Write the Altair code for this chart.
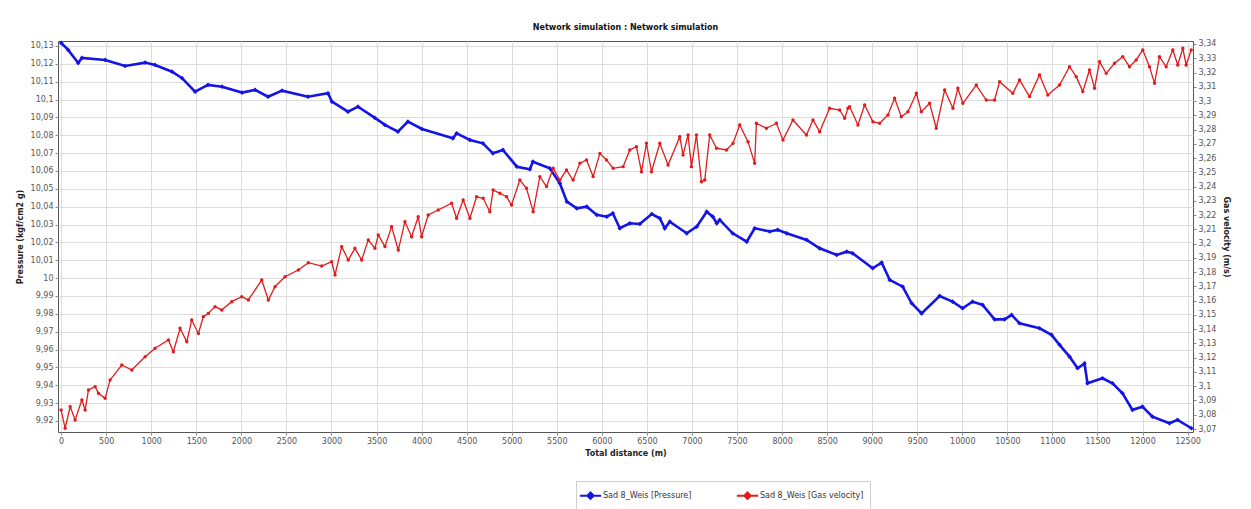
import altair as alt
import pandas as pd

TITLE = "Network simulation : Network simulation"
SERIES = ["Sad 8_Weis [Pressure]", "Sad 8_Weis [Gas velocity]"]
COLORS = ["#1414e6", "#e01c1c"]

x_ticks = [0, 500, 1000, 1500, 2000, 2500, 3000, 3500, 4000, 4500, 5000, 5500, 6000,
           6500, 7000, 7500, 8000, 8500, 9000, 9500, 10000, 10500, 11000, 11500, 12000, 12500]
p_ticks = [9.92, 9.93, 9.94, 9.95, 9.96, 9.97, 9.98, 9.99, 10.0, 10.01, 10.02, 10.03, 10.04,
           10.05, 10.06, 10.07, 10.08, 10.09, 10.1, 10.11, 10.12, 10.13]
v_ticks = [3.07, 3.08, 3.09, 3.1, 3.11, 3.12, 3.13, 3.14, 3.15, 3.16, 3.17, 3.18, 3.19, 3.2,
           3.21, 3.22, 3.23, 3.24, 3.25, 3.26, 3.27, 3.28, 3.29, 3.3, 3.31, 3.32, 3.33, 3.34]

pressure_x = [0, 78, 189, 230, 488, 710, 932, 1042, 1231, 1342,
              1486, 1630, 1786, 2007, 2152, 2296, 2451, 2739, 2961, 3005,
              3183, 3294, 3482, 3593, 3737, 3848, 4004, 4347,
              4389, 4536, 4680, 4791, 4902, 5057, 5201, 5235, 5423, 5534,
              5612, 5722, 5833, 5944, 6055, 6122, 6199, 6310, 6421, 6554,
              6643, 6698, 6754, 6942, 7053, 7164, 7231, 7275, 7308, 7452,
              7608, 7696, 7863, 7951, 8051, 8273, 8417, 8606, 8717,
              8783, 9005, 9105, 9194, 9338, 9438, 9548, 9748, 9892, 10003,
              10114, 10225, 10358, 10469, 10547, 10635, 10857, 10990, 11079, 11190,
              11279, 11356, 11389, 11556, 11667, 11778, 11888, 11999, 12110, 12299,
              12388, 12543]
pressure = [10.1317, 10.1278, 10.1205, 10.1233, 10.1222, 10.1188, 10.1207, 10.1194, 10.1156, 10.112,
            10.1044, 10.1082, 10.1072, 10.1039, 10.1054, 10.1016, 10.105, 10.1016, 10.1035, 10.0988,
            10.0932, 10.096, 10.0897, 10.0858, 10.082, 10.0876, 10.0835, 10.0783,
            10.0811, 10.0774, 10.0755, 10.0699, 10.0718, 10.0624, 10.061, 10.0652, 10.0615, 10.0531,
            10.0428, 10.0391, 10.04, 10.0354, 10.0344, 10.0363, 10.0279, 10.0307, 10.0303, 10.0359,
            10.0335, 10.0279, 10.0316, 10.0251, 10.0288, 10.0372, 10.0344, 10.0307, 10.0326, 10.0251,
            10.0204, 10.0279, 10.0261, 10.027, 10.0251, 10.0214, 10.0167, 10.013, 10.0148,
            10.0139, 10.0055, 10.0087, 9.999, 9.9952, 9.9859, 9.9802, 9.99, 9.9868, 9.9831,
            9.9868, 9.985, 9.9769, 9.9769, 9.9794, 9.9747, 9.9719, 9.9682, 9.9626, 9.956,
            9.9495, 9.9522, 9.9411, 9.9439, 9.9411, 9.9355, 9.9262, 9.928, 9.9224, 9.9187,
            9.9206, 9.9159]

velocity_x = [0, 44, 100, 155, 230, 266, 303, 377, 414, 488,
              543, 673, 784, 932, 1042, 1190, 1245, 1320, 1394, 1449,
              1523, 1578, 1634, 1708, 1782, 1893, 2004, 2077, 2226, 2299,
              2373, 2484, 2632, 2743, 2891, 3002, 3039, 3113, 3186, 3260,
              3335, 3408, 3482, 3519, 3593, 3667, 3741, 3815, 3889, 3962,
              4000, 4073, 4184, 4333,
              4388, 4461, 4536, 4610, 4683, 4757, 4794, 4869, 4943, 4998,
              5090, 5164, 5238, 5312, 5386, 5460, 5534, 5608, 5681, 5756,
              5830, 5903, 5978, 6052, 6125, 6236, 6310, 6384, 6440, 6495,
              6551, 6643, 6735, 6865, 6901, 6957, 6994, 7050, 7105, 7142,
              7197, 7272, 7383, 7456, 7530, 7622, 7696, 7715, 7826, 7937,
              8010, 8121, 8270, 8343, 8417, 8528, 8639, 8695, 8731,
              8750, 8842, 8916, 9008, 9083, 9175, 9249, 9323, 9397, 9490,
              9545, 9637, 9711, 9804, 9896, 9951, 10006, 10155, 10266, 10358,
              10414, 10561, 10635, 10746, 10857, 10949, 11079, 11190, 11264, 11337,
              11412, 11467, 11523, 11597, 11689, 11781, 11855, 11929, 12003, 12077,
              12133, 12188, 12262, 12336, 12391, 12447, 12484, 12540]
velocity = [3.0833, 3.0705, 3.0857, 3.0763, 3.0904, 3.0833, 3.0974, 3.0997, 3.095, 3.0915,
            3.1044, 3.1149, 3.1114, 3.1207, 3.1266, 3.1324, 3.1242, 3.1406, 3.1312, 3.1464,
            3.137, 3.1488, 3.1511, 3.1558, 3.1535, 3.1593, 3.1628, 3.1605, 3.1745, 3.1605,
            3.1698, 3.1768, 3.1815, 3.1866, 3.1843, 3.1873, 3.178, 3.1979, 3.1885, 3.1967,
            3.1885, 3.2026, 3.1967, 3.2061, 3.1979, 3.2119, 3.1955, 3.2154, 3.2049, 3.2189,
            3.2049, 3.2201, 3.2236, 3.2283,
            3.2178, 3.2306, 3.2178, 3.2329, 3.2318, 3.2224, 3.2376, 3.2353, 3.2329, 3.2271,
            3.2446, 3.2388, 3.2224, 3.247, 3.24, 3.2528, 3.2446, 3.2516, 3.2446, 3.2563,
            3.2587, 3.247, 3.2633, 3.2587, 3.2528, 3.254, 3.2657, 3.268, 3.2504, 3.2704,
            3.2504, 3.2704, 3.2551, 3.275, 3.2622, 3.2762, 3.254, 3.2762, 3.2434, 3.2446,
            3.2762, 3.2669, 3.2657, 3.2704, 3.2832, 3.2715, 3.2563, 3.2844, 3.2809, 3.2844,
            3.2727, 3.2867, 3.2762, 3.2867, 3.2785, 3.2949, 3.2937, 3.2879, 3.2949,
            3.296, 3.2832, 3.2972, 3.2855, 3.2844, 3.2902, 3.3019, 3.289, 3.2925, 3.3054,
            3.2925, 3.2984, 3.2809, 3.3077, 3.2949, 3.3089, 3.2984, 3.3112, 3.3007, 3.3007,
            3.3136, 3.3054, 3.3148, 3.3031, 3.3183, 3.3042, 3.3112, 3.3241, 3.3171, 3.3066,
            3.3218, 3.3089, 3.3276, 3.3194, 3.3265, 3.3311, 3.3241, 3.3288, 3.3358, 3.3241,
            3.3124, 3.3311, 3.3241, 3.3358, 3.3253, 3.337, 3.3253, 3.3358]

df_p = pd.DataFrame({"x": pressure_x, "pressure": pressure, "series": SERIES[0]})
df_v = pd.DataFrame({"x": velocity_x, "velocity": velocity, "series": SERIES[1]})

FONT = "DejaVu Sans"
LABEL_EXPR = "replace(format(datum.value, '.2~f'), '.', ',')"

xenc = alt.X(
    "x:Q",
    scale=alt.Scale(domain=[-35, 12560], nice=False, zero=False),
    axis=alt.Axis(values=x_ticks, format="d", title="Total distance (m)",
                  labelPadding=2, titlePadding=4),
)

legend = alt.Legend(
    orient="none", legendX=518, legendY=440, direction="horizontal", title=None,
    symbolType="M-1.5,0L1.5,0M0,-0.45L0.45,0L0,0.45L-0.45,0Z",
    symbolSize=200, symbolStrokeWidth=2, labelFontSize=8, labelFont=FONT,
    labelColor="#333333", columnPadding=40, strokeColor="#cfcfcf",
    fillColor="#ffffff", padding=6, cornerRadius=0,
)

color_scale = alt.Scale(domain=SERIES, range=COLORS)

pressure_layer = alt.Chart(df_p).mark_line(
    strokeWidth=2.6,
    point=alt.OverlayMarkDef(shape="diamond", size=22, filled=True),
).encode(
    x=xenc,
    y=alt.Y("pressure:Q",
            scale=alt.Scale(domain=[9.9138, 10.1328], nice=False, zero=False),
            axis=alt.Axis(orient="left", values=p_ticks, labelExpr=LABEL_EXPR,
                          title="Pressure (kgf/cm2 g)", titlePadding=6)),
    color=alt.Color("series:N", scale=color_scale, legend=legend),
)

velocity_layer = alt.Chart(df_v).mark_line(
    strokeWidth=1.3,
    point=alt.OverlayMarkDef(shape="circle", size=12, filled=True),
).encode(
    x=xenc,
    y=alt.Y("velocity:Q",
            scale=alt.Scale(domain=[3.0679, 3.3421], nice=False, zero=False),
            axis=alt.Axis(orient="right", values=v_ticks, labelExpr=LABEL_EXPR,
                          title="Gas velocity (m/s)", titlePadding=6)),
    color=alt.Color("series:N", scale=color_scale, legend=legend),
)

chart = alt.layer(pressure_layer, velocity_layer).resolve_scale(
    y="independent"
).properties(
    width=1135,
    height=391,
    title=alt.TitleParams(TITLE, fontSize=8, fontWeight="bold", anchor="middle",
                          offset=6, font=FONT, color="#111111"),
    autosize=alt.AutoSizeParams(type="none"),
    padding={"left": 58, "top": 41, "right": 58, "bottom": 77},
    background="#ffffff",
).configure_view(
    stroke="#555555", strokeWidth=1
).configure_axis(
    labelFont=FONT, labelFontSize=8, labelColor="#555555",
    titleFont=FONT, titleFontSize=8, titleFontWeight="bold", titleColor="#222222",
    tickColor="#888888", tickSize=3, domain=False,
    grid=True, gridColor="#dddddd", gridWidth=1,
)

chart.save("out.html", embed_options={"renderer": "svg", "actions": False})
